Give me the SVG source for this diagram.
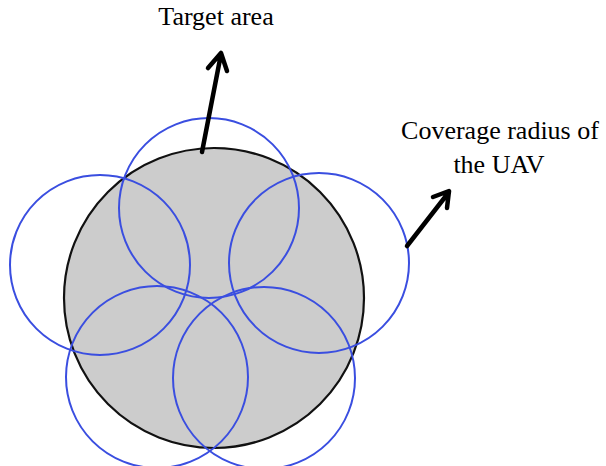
<svg xmlns="http://www.w3.org/2000/svg" width="606" height="466" viewBox="0 0 606 466">
<defs>
<style>
.cov{fill:none;stroke:#3a4ee0;stroke-width:2}
.lbl{font-family:"Liberation Serif","Times New Roman",serif;font-size:26px;fill:#000;text-anchor:middle}
.arr{fill:none;stroke:#000;stroke-width:4.5;stroke-linecap:round;stroke-linejoin:round}
</style>
</defs>
<rect width="606" height="466" fill="#fff"/>
<g id="target-area">
<circle cx="214" cy="298" r="150" fill="#cccccc" stroke="#111" stroke-width="2.2"/>
</g>
<g id="uav-circles">
<circle id="uav-top" class="cov" cx="209" cy="208" r="90"/>
<circle id="uav-right" class="cov" cx="319" cy="263" r="90"/>
<circle id="uav-left" class="cov" cx="100" cy="265" r="90"/>
<circle id="uav-bottom-left" class="cov" cx="157" cy="377" r="91"/>
<circle id="uav-bottom-right" class="cov" cx="264" cy="378" r="91"/>
</g>
<g id="connectors">
<path class="arr" d="M202,152 L221,54 M208,68 L221,53 L227,71"/>
<path class="arr" d="M407,246 L449,192 M433,197 L449,191 L447,208"/>
</g>
<g id="labels">
<text class="lbl" x="216" y="25">Target area</text>
<text class="lbl" x="500" y="139">Coverage radius of</text>
<text class="lbl" x="499" y="173">the UAV</text>
</g>
</svg>
